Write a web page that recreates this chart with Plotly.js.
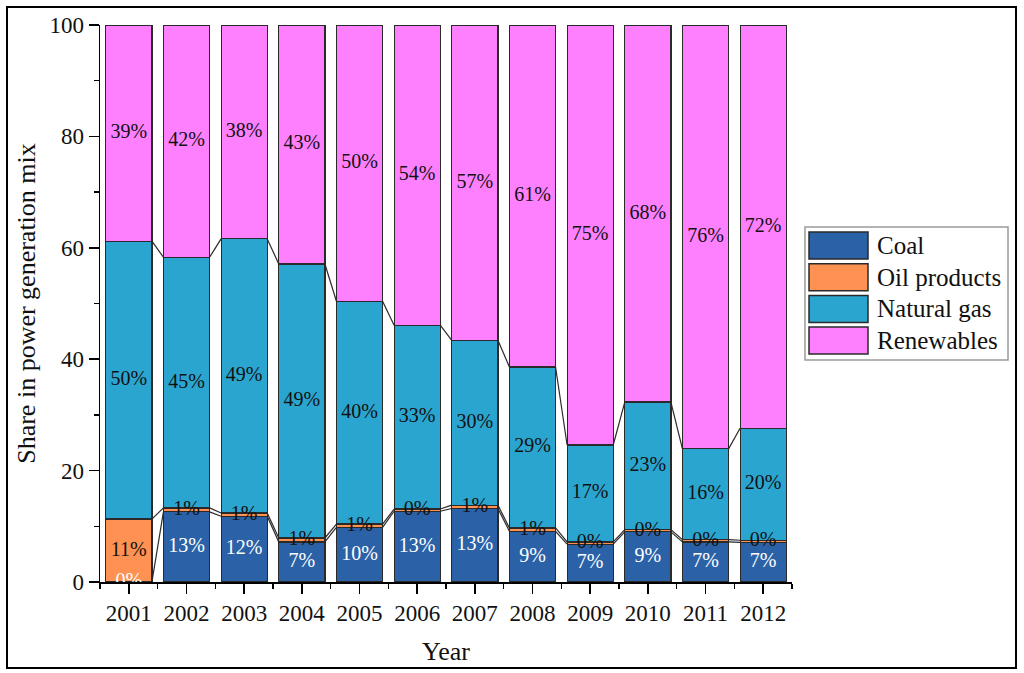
<!DOCTYPE html>
<html>
<head>
<meta charset="utf-8">
<script src="https://cdn.plot.ly/plotly-3.0.1.min.js"></script>
<style>
  html, body { margin: 0; padding: 0; background: #fff; }
  #chart { width: 1024px; height: 673px; }
</style>
</head>
<body>
<div id="chart"></div>
<script>
// ---- data (shares in %) ----
const years      = [2001, 2002, 2003, 2004, 2005, 2006, 2007, 2008, 2009, 2010, 2011, 2012];
const coal       = [0.0, 12.6, 11.8, 7.2, 9.8, 12.7, 13.2, 9.1, 6.8, 9.0, 7.2, 7.1];
const oil        = [11.3, 0.7, 0.6, 0.7, 0.6, 0.4, 0.6, 0.6, 0.4, 0.4, 0.4, 0.4];
const gas        = [49.9, 45.0, 49.2, 49.2, 40.0, 33.0, 29.6, 28.9, 17.4, 22.9, 16.3, 20.1];
const renewables = [38.8, 41.7, 38.4, 42.9, 49.6, 53.9, 56.6, 61.4, 75.4, 67.7, 76.1, 72.4];
const seriesNames  = ['Coal', 'Oil products', 'Natural gas', 'Renewables'];
const seriesColors = ['#2B62A7', '#FF9152', '#2AA5CF', '#FF80FF'];
const labelColors  = ['#ffffff', '#111111', '#111111', '#111111'];

// ---- layout constants ----
const W = 1024, H = 673;
const L = 100, R = 792, T = 25, B = 582;   // plot area in pixels
const FONT = '"Liberation Serif", "Times New Roman", serif';
const BARW = 0.8;

const series = [coal, oil, gas, renewables];
const traces = [];

// stacked bars
series.forEach((vals, k) => {
  traces.push({
    type: 'bar', x: years, y: vals, name: seriesNames[k], width: BARW,
    marker: { color: seriesColors[k], line: { color: '#2a2a2a', width: 1.2 } },
    showlegend: false, hoverinfo: 'x+y+name'
  });
});

// cumulative tops
const cum = [];
let run = years.map(() => 0);
series.forEach(vals => {
  const bottoms = run.slice();
  run = run.map((v, i) => v + vals[i]);
  cum.push({ bottom: bottoms, top: run.slice() });
});

// connector lines between successive bars (Origin style)
for (let k = 0; k < 3; k++) {
  const xs = [], ys = [];
  for (let i = 0; i < years.length - 1; i++) {
    xs.push(years[i] + BARW / 2, years[i + 1] - BARW / 2, null);
    ys.push(cum[k].top[i], cum[k].top[i + 1], null);
  }
  traces.push({
    type: 'scatter', mode: 'lines', x: xs, y: ys,
    line: { color: '#2a2a2a', width: 1.2 }, showlegend: false, hoverinfo: 'skip'
  });
}

// percentage labels at segment centres
series.forEach((vals, k) => {
  traces.push({
    type: 'scatter', mode: 'text', x: years,
    y: vals.map((v, i) => cum[k].bottom[i] + v / 2),
    text: vals.map(v => Math.round(v) + '%'),
    textposition: 'middle center',
    textfont: { family: FONT, size: 20, color: labelColors[k] },
    cliponaxis: true, showlegend: false, hoverinfo: 'skip'
  });
});

// pixel -> paper helpers
const pw = R - L, ph = B - T;
const px = x => (x - L) / pw;
const py = y => (B - y) / ph;

const shapes = [];
const annotations = [];

// outer frame
shapes.push({ type: 'rect', xref: 'paper', yref: 'paper',
  x0: px(7), x1: px(1016), y0: py(668), y1: py(7),
  line: { color: '#000', width: 2 }, fillcolor: 'rgba(0,0,0,0)' });

// custom legend
shapes.push({ type: 'rect', xref: 'paper', yref: 'paper',
  x0: px(805), x1: px(1008), y0: py(360), y1: py(227),
  line: { color: '#9a9a9a', width: 1.5 }, fillcolor: '#ffffff' });
seriesNames.forEach((name, k) => {
  const top = 232 + k * 31.7;
  shapes.push({ type: 'rect', xref: 'paper', yref: 'paper',
    x0: px(809), x1: px(868), y0: py(top + 27), y1: py(top),
    line: { color: '#2a2a2a', width: 1.5 }, fillcolor: seriesColors[k] });
  annotations.push({ xref: 'paper', yref: 'paper', x: px(875), y: py(top + 13.5),
    xanchor: 'left', yanchor: 'middle', showarrow: false, text: name,
    font: { family: FONT, size: 25, color: '#111' } });
});

const layout = {
  width: W, height: H,
  margin: { l: L, r: W - R, t: T, b: H - B, pad: 0 },
  paper_bgcolor: '#ffffff', plot_bgcolor: '#ffffff',
  barmode: 'stack', bargap: 0.2,
  showlegend: false,
  font: { family: FONT, color: '#111' },
  xaxis: {
    range: [2000.5, 2012.5], tickmode: 'linear', tick0: 2001, dtick: 1,
    tickformat: 'd', showgrid: false, zeroline: false,
    showline: true, linecolor: '#000', linewidth: 1.5,
    ticks: 'outside', ticklen: 10, tickwidth: 1.5, tickcolor: '#000',
    minor: { tick0: 2000.5, dtick: 1, ticks: 'outside', ticklen: 5, tickwidth: 1.5, tickcolor: '#000' },
    tickfont: { family: FONT, size: 23, color: '#111' },
    title: { text: 'Year', font: { family: FONT, size: 26, color: '#111' }, standoff: 16 },
    fixedrange: true
  },
  yaxis: {
    range: [0, 100], tickmode: 'linear', tick0: 0, dtick: 20,
    showgrid: false, zeroline: false,
    showline: true, linecolor: '#000', linewidth: 1.5,
    ticks: 'outside', ticklen: 10, tickwidth: 1.5, tickcolor: '#000',
    minor: { dtick: 10, ticks: 'outside', ticklen: 5, tickwidth: 1.5, tickcolor: '#000' },
    tickfont: { family: FONT, size: 23, color: '#111' },
    title: { text: 'Share in power generation mix', font: { family: FONT, size: 26, color: '#111' }, standoff: 6 },
    fixedrange: true
  },
  shapes: shapes,
  annotations: annotations
};

Plotly.newPlot('chart', traces, layout, { displayModeBar: false, staticPlot: true });
</script>
</body>
</html>
